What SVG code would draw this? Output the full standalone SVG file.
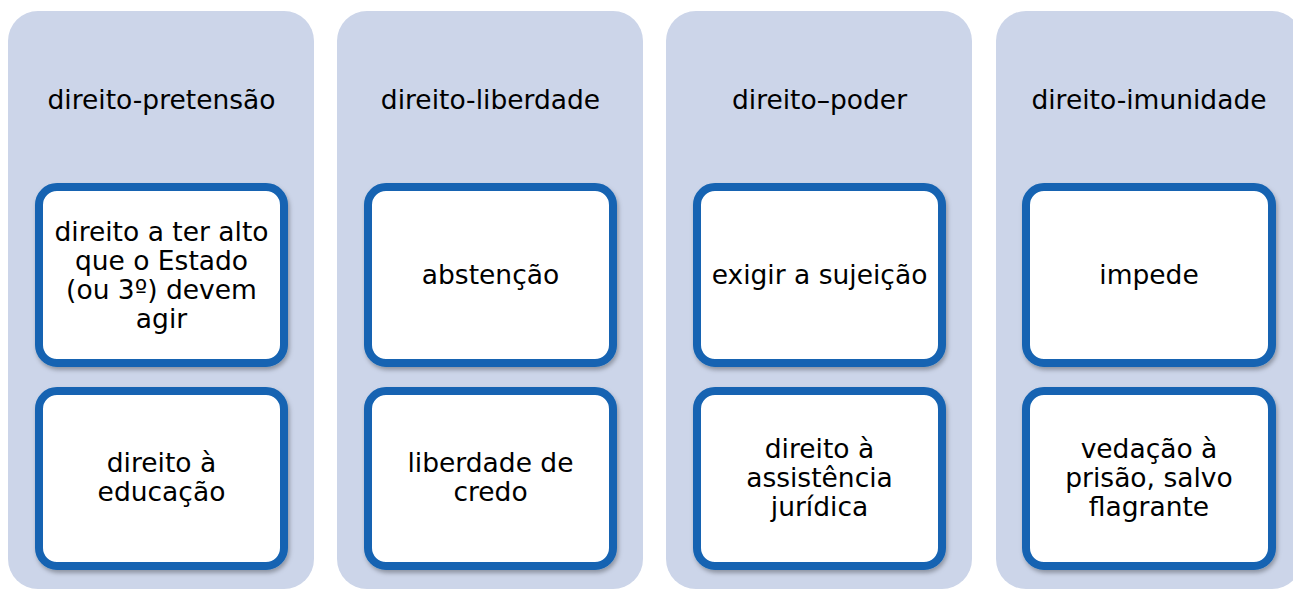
<svg xmlns="http://www.w3.org/2000/svg" width="1293" height="589" viewBox="0 0 1293 589">
<style>
.panel{fill:#ccd5e9}
.box{fill:#ffffff;stroke:#1363b2;stroke-width:8;filter:url(#sh)}
text{font-family:"DejaVu Sans","Verdana",sans-serif;font-size:26.5px;fill:#000;text-anchor:middle}
</style>
<defs>
<filter id="sh" x="-10%" y="-10%" width="120%" height="125%">
<feDropShadow dx="1.5" dy="3" stdDeviation="2" flood-color="#000" flood-opacity="0.3"/>
</filter>
</defs>
<rect width="1293" height="589" fill="#ffffff"/>
<g id="col1">
<rect class="panel" x="8" y="11" width="306" height="578" rx="30"/>
<text x="161.5" y="109">direito-pretensão</text>
<g id="c1b1"><rect class="box" x="39" y="187" width="245" height="176" rx="18"/>
<text x="161.5" y="240.5">direito a ter alto</text>
<text x="161.5" y="269.5">que o Estado</text>
<text x="161.5" y="298.5">(ou 3º) devem</text>
<text x="161.5" y="327.5">agir</text></g>
<g id="c1b2"><rect class="box" x="39" y="391" width="245" height="175" rx="18"/>
<text x="161.5" y="472">direito à</text>
<text x="161.5" y="501">educação</text></g>
</g>
<g id="col2">
<rect class="panel" x="337" y="11" width="306" height="578" rx="30"/>
<text x="490.5" y="109">direito-liberdade</text>
<g id="c2b1"><rect class="box" x="368" y="187" width="245" height="176" rx="18"/>
<text x="490.5" y="284">abstenção</text></g>
<g id="c2b2"><rect class="box" x="368" y="391" width="245" height="175" rx="18"/>
<text x="490.5" y="472">liberdade de</text>
<text x="490.5" y="501">credo</text></g>
</g>
<g id="col3">
<rect class="panel" x="666" y="11" width="306" height="578" rx="30"/>
<text x="819.5" y="109">direito–poder</text>
<g id="c3b1"><rect class="box" x="697" y="187" width="245" height="176" rx="18"/>
<text x="819.5" y="284">exigir a sujeição</text></g>
<g id="c3b2"><rect class="box" x="697" y="391" width="245" height="175" rx="18"/>
<text x="819.5" y="457.5">direito à</text>
<text x="819.5" y="486.5">assistência</text>
<text x="819.5" y="515.5">jurídica</text></g>
</g>
<g id="col4">
<rect class="panel" x="996" y="11" width="306" height="578" rx="30"/>
<text x="1149" y="109">direito-imunidade</text>
<g id="c4b1"><rect class="box" x="1026" y="187" width="246" height="176" rx="18"/>
<text x="1149" y="284">impede</text></g>
<g id="c4b2"><rect class="box" x="1026" y="391" width="246" height="175" rx="18"/>
<text x="1149" y="457.5">vedação à</text>
<text x="1149" y="486.5">prisão, salvo</text>
<text x="1149" y="515.5">flagrante</text></g>
</g>
<g id="connectors"/>
</svg>
